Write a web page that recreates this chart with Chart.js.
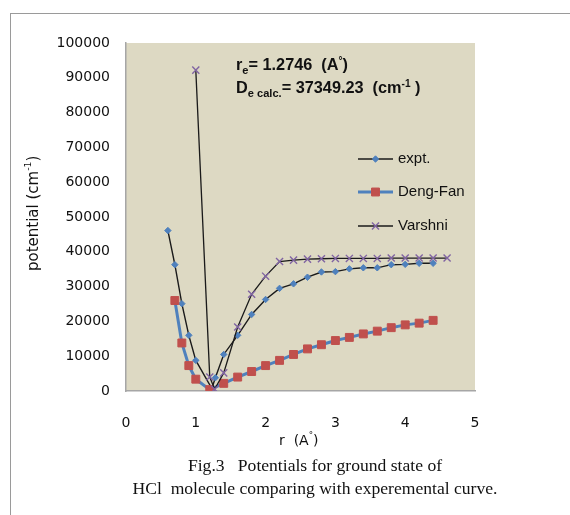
<!DOCTYPE html>
<html>
<head>
<meta charset="utf-8">
<script src="https://cdn.jsdelivr.net/npm/chart.js@4/dist/chart.umd.min.js"></script>
<style>
  body { margin: 0; background: #fff; }
  #wrap { position: relative; width: 570px; height: 515px; overflow: hidden; }
  #frame { position: absolute; left: 10px; top: 13px; width: 600px; height: 600px;
           border-left: 1.5px solid #9a9a9a; border-top: 1.5px solid #9a9a9a; }
  canvas { position: absolute; left: 0; top: 0; }
  .cap { position: absolute; left: 0; width: 630px; text-align: center;
         font-family: "Liberation Serif", serif; font-size: 17.6px; color: #111; }
</style>
</head>
<body>
<div id="wrap">
  <div id="frame"></div>
  <canvas id="potChart" width="570" height="515"></canvas>
  <div class="cap" style="top:455px">Fig.3&nbsp;&nbsp; Potentials for ground state of</div>
  <div class="cap" style="top:478px">HCl&nbsp; molecule comparing with experemental curve.</div>
</div>
<script>
const rExpt = [0.6, 0.7, 0.8, 0.9, 1.0, 1.23, 1.28, 1.4, 1.6, 1.8, 2.0, 2.2, 2.4, 2.6, 2.8, 3.0, 3.2, 3.4, 3.6, 3.8, 4.0, 4.2, 4.4];
const vExpt = [46100, 36300, 25100, 16000, 8800, 700, 3800, 10500, 16000, 22000, 26300, 29500, 30800, 32700, 34200, 34300, 35100, 35400, 35400, 36300, 36400, 36700, 36700];

const rDengFan = [0.7, 0.8, 0.9, 1.0, 1.2, 1.4, 1.6, 1.8, 2.0, 2.2, 2.4, 2.6, 2.8, 3.0, 3.2, 3.4, 3.6, 3.8, 4.0, 4.2, 4.4];
const vDengFan = [26000, 13800, 7300, 3400, 400, 2200, 4000, 5600, 7300, 8800, 10500, 12100, 13300, 14500, 15400, 16400, 17200, 18200, 19000, 19500, 20300];

const rVarshni = [1.0, 1.2, 1.27, 1.4, 1.6, 1.8, 2.0, 2.2, 2.4, 2.6, 2.8, 3.0, 3.2, 3.4, 3.6, 3.8, 4.0, 4.2, 4.4, 4.6];
const vVarshni = [92200, 4000, 500, 5200, 18400, 27800, 33000, 37200, 37600, 37900, 38000, 38100, 38100, 38100, 38100, 38200, 38200, 38200, 38200, 38200];

const seriesNames = ['expt.', 'Deng-Fan', 'Varshni'];

const PLOT_BG = '#ddd9c3';
const BLUE = '#4f81bd';
const RED = '#c0504d';
const PURPLE = '#8064a2';
const TICK_FONT = { family: 'DejaVu Sans', size: 14 };

function toPoints(xs, ys) {
    return xs.map((x, i) => ({ x: x, y: ys[i] }));
}

// draws a string made of runs, some of them sub/superscript
function drawRuns(ctx, x, y, runs, size, family, weight) {
    runs.forEach(run => {
        let s = size, dy = 0;
        if (run.sub) { s = size * 0.68; dy = size * 0.25; }
        if (run.sup) { s = size * 0.62; dy = -size * 0.38; }
        ctx.font = `${weight} ${s}px ${family}`;
        ctx.fillText(run.t, x, y + dy);
        x += ctx.measureText(run.t).width;
    });
}

const plotBackground = {
    id: 'plotBackground',
    beforeDraw(chart) {
        const { ctx, chartArea: a } = chart;
        ctx.save();
        ctx.fillStyle = PLOT_BG;
        ctx.fillRect(a.left, a.top, a.right - a.left, a.bottom - a.top);
        ctx.restore();
    }
};

const extras = {
    id: 'extras',
    afterDraw(chart) {
        const ctx = chart.ctx;
        ctx.save();
        ctx.fillStyle = '#111';
        ctx.textBaseline = 'alphabetic';
        ctx.textAlign = 'left';

        // annotation
        const f = '"Liberation Sans", sans-serif';
        drawRuns(ctx, 236, 70, [{ t: 'r' }, { t: 'e', sub: true }, { t: '= 1.2746  (A' }, { t: '°', sup: true }, { t: ')' }], 16.3, f, 'bold');
        drawRuns(ctx, 236, 93, [{ t: 'D' }, { t: 'e calc.', sub: true }, { t: '= 37349.23  (cm' }, { t: '-1', sup: true }, { t: ' )' }], 16.3, f, 'bold');

        // legend
        const rows = [159, 192, 226];
        chart.data.datasets.forEach((ds, i) => {
            const y = rows[i];
            ctx.strokeStyle = ds.borderColor;
            ctx.lineWidth = ds.borderWidth;
            ctx.beginPath();
            ctx.moveTo(358, y);
            ctx.lineTo(393, y);
            ctx.stroke();
            ctx.fillStyle = ds.pointBackgroundColor;
            ctx.strokeStyle = ds.pointBorderColor;
            ctx.lineWidth = ds.pointBorderWidth;
            Chart.helpers.drawPoint(ctx, { pointStyle: ds.pointStyle, radius: ds.pointRadius, borderWidth: ds.pointBorderWidth, rotation: 0 }, 375.5, y);
            ctx.fillStyle = '#111';
            ctx.font = '15px "Liberation Sans", sans-serif';
            ctx.textBaseline = 'middle';
            ctx.fillText(seriesNames[i], 398, y);
        });

        // axis titles
        ctx.textBaseline = 'middle';
        ctx.fillStyle = '#111';
        drawRuns(ctx, 279, 441, [{ t: 'r  (A' }, { t: '°', sup: true }, { t: ')' }], 14, '"DejaVu Sans", sans-serif', 'normal');
        ctx.translate(34, 271);
        ctx.rotate(-Math.PI / 2);
        drawRuns(ctx, 0, 0, [{ t: 'potential (cm' }, { t: '-1', sup: true }, { t: ')' }], 15, '"DejaVu Sans", sans-serif', 'normal');
        ctx.restore();
    }
};

const ctx = document.getElementById('potChart').getContext('2d');
new Chart(ctx, {
    type: 'scatter',
    data: {
        datasets: [{
            label: seriesNames[0],
            data: toPoints(rExpt, vExpt),
            showLine: true,
            borderColor: '#1a1a1a',
            borderWidth: 1.4,
            pointStyle: 'rectRot',
            pointRadius: 3.2,
            pointBackgroundColor: BLUE,
            pointBorderColor: BLUE,
            pointBorderWidth: 1,
            order: 2
        }, {
            label: seriesNames[1],
            data: toPoints(rDengFan, vDengFan),
            showLine: true,
            borderColor: BLUE,
            borderWidth: 3,
            pointStyle: 'rect',
            pointRadius: 5.6,
            pointBackgroundColor: RED,
            pointBorderColor: RED,
            pointBorderWidth: 1,
            order: 1
        }, {
            label: seriesNames[2],
            data: toPoints(rVarshni, vVarshni),
            showLine: true,
            borderColor: '#1a1a1a',
            borderWidth: 1.3,
            pointStyle: 'crossRot',
            pointRadius: 5,
            pointBackgroundColor: PURPLE,
            pointBorderColor: PURPLE,
            pointBorderWidth: 1.4,
            order: 0
        }]
    },
    options: {
        responsive: false,
        animation: false,
        layout: { padding: { left: 0, top: 43, right: 95, bottom: 0 } },
        scales: {
            x: {
                type: 'linear',
                min: 0,
                max: 5,
                grid: { display: false, drawTicks: false },
                border: { display: true, color: '#a6a6a6', width: 1.5 },
                ticks: { stepSize: 1, padding: 24, color: '#111', font: TICK_FONT },
                afterFit: s => { s.height = 124; }
            },
            y: {
                min: 0,
                max: 100000,
                grid: { display: false, drawTicks: false },
                border: { display: true, color: '#a6a6a6', width: 1.5 },
                ticks: { stepSize: 10000, padding: 16, color: '#111', font: TICK_FONT, callback: v => String(v) },
                afterFit: s => { s.width = 126; }
            }
        },
        plugins: {
            legend: { display: false },
            tooltip: { enabled: false }
        },
        elements: { line: { tension: 0 } }
    },
    plugins: [plotBackground, extras]
});
</script>
</body>
</html>
